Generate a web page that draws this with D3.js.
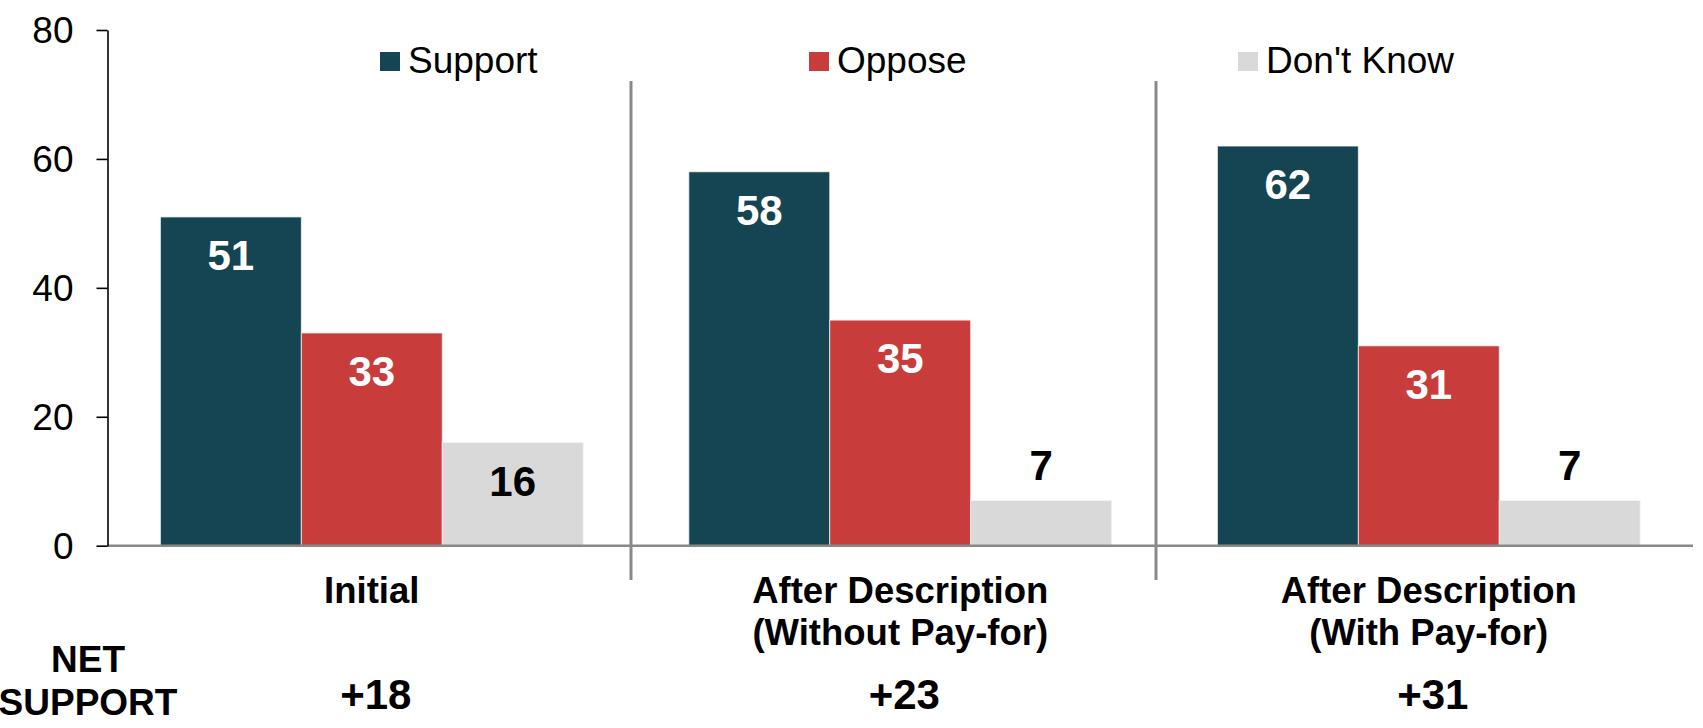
<!DOCTYPE html>
<html>
<head>
<meta charset="utf-8">
<script src="https://cdn.jsdelivr.net/npm/d3@7"></script>
<style>
  html, body { margin: 0; padding: 0; background: #fff; }
  svg { display: block; font-family: "Liberation Sans", Arial, sans-serif; }
</style>
</head>
<body>
<svg id="chart" width="1703" height="728"></svg>
<script>
// ---- data ----
const categories = ["Initial", "After Description\n(Without Pay-for)", "After Description\n(With Pay-for)"];
const seriesNames = ["Support", "Oppose", "Don't Know"];
const support = [51, 58, 62];
const oppose = [33, 35, 31];
const dontKnow = [16, 7, 7];
const netSupport = ["+18", "+23", "+31"];
const yTicks = [0, 20, 40, 60, 80];
const netLabel = ["NET", "SUPPORT"];

const colors = ["#154452", "#C83C3C", "#D9D9D9"];
const labelColors = ["#ffffff", "#ffffff", "#000000"];
const seriesValues = [support, oppose, dontKnow];

const svg = d3.select("#chart");

const y = d3.scaleLinear().domain([0, 80]).range([545.7, 30]);
const x = d3.scaleBand().domain(d3.range(categories.length))
  .range([107.5, 1693]).paddingInner(0.2).paddingOuter(0.1);
const xs = d3.scaleBand().domain(d3.range(seriesNames.length))
  .range([0, x.bandwidth()]);
const sep = d3.scaleLinear().domain([0, 3]).range([106, 1681]);

// separators
svg.append("g").selectAll("line").data([1, 2]).join("line")
  .attr("x1", d => sep(d)).attr("x2", d => sep(d))
  .attr("y1", 81).attr("y2", 580)
  .attr("stroke", "#898989").attr("stroke-width", 3);

// bars
const groups = svg.append("g").selectAll("g").data(categories).join("g")
  .attr("transform", (d, i) => `translate(${x(i)},0)`);

groups.each(function(c, ci) {
  const g = d3.select(this);
  seriesValues.forEach((vals, si) => {
    const v = vals[ci];
    g.append("rect")
      .attr("x", xs(si)).attr("width", xs.bandwidth())
      .attr("y", y(v)).attr("height", y(0) - y(v))
      .attr("fill", colors[si])
      .attr("stroke", "#f2f2f2").attr("stroke-width", 0.8);
    const inside = (y(0) - y(v)) > 70;
    g.append("text")
      .attr("x", xs(si) + xs.bandwidth() / 2)
      .attr("y", inside ? y(v) + 53 : y(v) - 21)
      .attr("text-anchor", "middle")
      .attr("font-weight", "bold")
      .attr("font-size", 42)
      .attr("fill", inside ? labelColors[si] : "#000")
      .text(v);
  });
});

// baseline
svg.append("line")
  .attr("x1", 107.5).attr("x2", 1693)
  .attr("y1", y(0)).attr("y2", y(0))
  .attr("stroke", "#898989").attr("stroke-width", 2.5);

// y axis
const yAxis = svg.append("g").attr("transform", "translate(107.5,0)")
  .call(d3.axisLeft(y).tickValues(yTicks).tickSize(11).tickPadding(23).tickSizeOuter(0));
yAxis.select(".domain").attr("stroke", "#000").attr("stroke-width", 1.6);
yAxis.selectAll(".tick line").attr("stroke", "#000").attr("stroke-width", 1.6);
yAxis.selectAll(".tick text")
  .attr("font-family", "'Liberation Sans', Arial, sans-serif")
  .attr("font-size", 37).attr("fill", "#000").attr("dy", "0.35em");

// category labels
svg.append("g").selectAll("text").data(categories).join("text")
  .attr("text-anchor", "middle")
  .attr("font-weight", "bold").attr("font-size", 36.5)
  .attr("transform", (d, i) => `translate(${x(i) + x.bandwidth() / 2},603)`)
  .each(function(d) {
    const t = d3.select(this);
    d.split("\n").forEach((line, li) => {
      t.append("tspan").attr("x", 0).attr("y", li * 42).text(line);
    });
  });

// net support values
svg.append("g").selectAll("text").data(netSupport).join("text")
  .attr("x", (d, i) => x(i) + x.bandwidth() / 2 + 4)
  .attr("y", 709)
  .attr("text-anchor", "middle")
  .attr("font-weight", "bold").attr("font-size", 42)
  .text(d => d);

svg.append("g").selectAll("text").data(netLabel).join("text")
  .attr("x", 88).attr("y", (d, i) => 672 + i * 43)
  .attr("text-anchor", "middle")
  .attr("font-weight", "bold").attr("font-size", 37)
  .text(d => d);

// legend
const legend = svg.append("g").selectAll("g").data(seriesNames).join("g")
  .attr("transform", (d, i) => `translate(${380 + i * 429},0)`);
legend.append("rect").attr("x", 0).attr("y", 52).attr("width", 20).attr("height", 19)
  .attr("fill", (d, i) => colors[i]);
legend.append("text").attr("x", 28).attr("y", 72.5)
  .attr("font-size", 37).attr("fill", "#000").text(d => d);
</script>
</body>
</html>
